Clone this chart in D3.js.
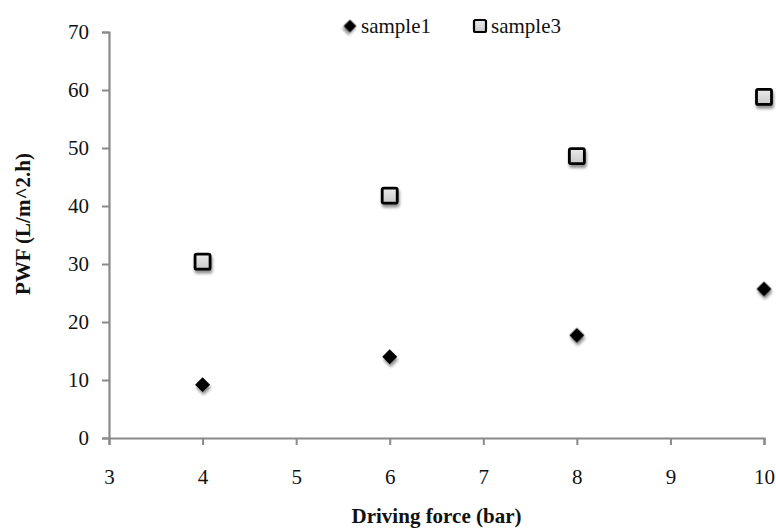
<!DOCTYPE html>
<html>
<head>
<meta charset="utf-8">
<script src="https://cdn.jsdelivr.net/npm/d3@7"></script>
<style>
  html, body { margin: 0; padding: 0; background: #fff; }
  svg { display: block; }
  svg text { font-family: "Liberation Serif", "Times New Roman", serif; fill: #111; }
</style>
</head>
<body>
<svg id="chart" width="776" height="529"></svg>
<script>
// Pure water flux versus driving pressure
const pressures = [4, 6, 8, 10];
const sample1 = [9.2, 14.0, 17.7, 25.7];
const sample3 = [30.4, 41.8, 48.6, 58.8];
const xTicks = [3, 4, 5, 6, 7, 8, 9, 10];
const yTicks = [0, 10, 20, 30, 40, 50, 60, 70];
const seriesNames = ["sample1", "sample3"];

const svg = d3.select("#chart");
const margin = { left: 109, right: 12, top: 32, bottom: 91 };
const W = 776, H = 529;
const serif = "'Liberation Serif', 'Times New Roman', serif";

const x = d3.scaleLinear().domain([3, 10]).range([margin.left, W - margin.right]);
const y = d3.scaleLinear().domain([0, 70]).range([H - margin.bottom, margin.top]);

// soft drop shadow under the markers
const defs = svg.append("defs");
const f = defs.append("filter").attr("id", "shadow")
  .attr("x", "-50%").attr("y", "-50%").attr("width", "200%").attr("height", "200%");
f.append("feGaussianBlur").attr("in", "SourceAlpha").attr("stdDeviation", 1.6).attr("result", "b");
f.append("feOffset").attr("in", "b").attr("dx", 0.5).attr("dy", 2.5).attr("result", "o");
f.append("feComponentTransfer").attr("in", "o").attr("result", "s")
  .append("feFuncA").attr("type", "linear").attr("slope", 0.45);
const m = f.append("feMerge");
m.append("feMergeNode").attr("in", "s");
m.append("feMergeNode").attr("in", "SourceGraphic");

const grad = defs.append("linearGradient").attr("id", "sqfill")
  .attr("x1", 0).attr("y1", 0).attr("x2", 0).attr("y2", 1);
grad.append("stop").attr("offset", "0%").attr("stop-color", "#ececec");
grad.append("stop").attr("offset", "100%").attr("stop-color", "#c8c8c8");

// axes
const axisColor = "#8a8a8a";
const gx = svg.append("g").attr("transform", `translate(0,${y(0)})`)
  .call(d3.axisBottom(x).tickValues(xTicks).tickSize(7).tickSizeOuter(7).tickPadding(23).tickFormat(d3.format("d")));
const gy = svg.append("g").attr("transform", `translate(${x(3)},0)`)
  .call(d3.axisLeft(y).tickValues(yTicks).tickSize(7).tickSizeOuter(7).tickPadding(13).tickFormat(d3.format("d")));
[gx, gy].forEach(g => {
  g.attr("font-family", serif).attr("font-size", 21);
  g.select(".domain").attr("stroke", axisColor).attr("stroke-width", 2.2);
  g.selectAll(".tick line").attr("stroke", axisColor).attr("stroke-width", 2);
  g.selectAll(".tick text")
    .style("font-family", serif).style("font-size", "21px").attr("fill", "#111");
});
gx.selectAll(".tick text").attr("dy", "0.75em");

// axis titles
svg.append("text")
  .attr("x", (x(3) + x(10)) / 2).attr("y", 523)
  .style("font-family", serif)
  .attr("text-anchor", "middle").attr("font-size", 21).attr("font-weight", "bold")
  .text("Driving force (bar)");
svg.append("text")
  .attr("transform", `translate(30,224) rotate(-90)`)
  .style("font-family", serif)
  .attr("text-anchor", "middle").attr("font-size", 21).attr("font-weight", "bold")
  .text("PWF (L/m^2.h)");

const diamond = d3.symbol().type(d3.symbolSquare).size(112);

// sample1 diamonds
svg.append("g").attr("filter", "url(#shadow)")
  .selectAll("path").data(pressures.map((p, i) => [p, sample1[i]])).join("path")
  .attr("d", diamond)
  .attr("transform", d => `translate(${x(d[0])},${y(d[1])}) rotate(45)`)
  .attr("fill", "#000");

// sample3 squares
const sq = 15;
svg.append("g").attr("filter", "url(#shadow)")
  .selectAll("rect").data(pressures.map((p, i) => [p, sample3[i]])).join("rect")
  .attr("x", d => x(d[0]) - sq / 2).attr("y", d => y(d[1]) - sq / 2)
  .attr("width", sq).attr("height", sq).attr("rx", 1.5)
  .attr("fill", "url(#sqfill)").attr("stroke", "#000").attr("stroke-width", 2.8);

// legend
const legend = svg.append("g");
const lx = [350, 480];
legend.append("path").attr("d", d3.symbol().type(d3.symbolSquare).size(80))
  .attr("transform", `translate(${lx[0]},26) rotate(45)`).attr("fill", "#000")
  .attr("filter", "url(#shadow)");
legend.append("rect").attr("x", lx[1] - 6).attr("y", 20).attr("width", 12).attr("height", 12).attr("rx", 1.5)
  .attr("fill", "url(#sqfill)").attr("stroke", "#000").attr("stroke-width", 2.2);
seriesNames.forEach((n, i) => {
  legend.append("text").attr("x", lx[i] + 11).attr("y", 33).attr("font-size", 21)
    .style("font-family", serif).text(n);
});
</script>
</body>
</html>
